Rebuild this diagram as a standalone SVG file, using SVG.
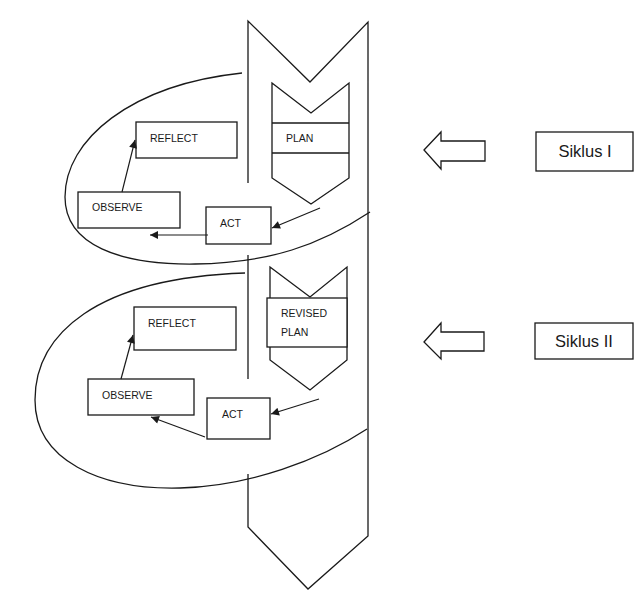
<svg xmlns="http://www.w3.org/2000/svg" width="642" height="605" viewBox="0 0 642 605">
<defs>
<marker id="ah" viewBox="0 0 10 10" refX="10" refY="5" markerWidth="10" markerHeight="8" markerUnits="userSpaceOnUse" orient="auto">
<path d="M0,0 L10,5 L0,10 Z" fill="#1a1a1a"/>
</marker>
</defs>
<style>
.ln{fill:none;stroke:#1a1a1a;stroke-width:1.3}
.bx{fill:#fff;stroke:#1a1a1a;stroke-width:1.3}
.t{font-family:"Liberation Sans",Arial,sans-serif;font-size:10.5px;fill:#1a1a1a}
.tb{font-family:"Liberation Sans",Arial,sans-serif;font-size:16.5px;fill:#1a1a1a}
.ar{fill:none;stroke:#1a1a1a;stroke-width:1.2;marker-end:url(#ah)}
</style>
<rect width="642" height="605" fill="#fff"/>
<g id="band">
<path class="ln" d="M248,183 L248,21 L310,82 L368,22 L368,536 L308,589 L248,527 L248,474"/>
<path class="ln" d="M248,255 L248,379"/>
</g>
<g id="cycle1-loop">
<path class="ln" d="M242,73 C130,85 65,140 65,197 C65,245 120,265 195,264 C270,263 320,245 370,212"/>
</g>
<g id="cycle2-loop">
<path class="ln" d="M245,273 C95,278 35,335 35,400 C35,460 100,490 180,488 C250,486 320,460 367,429"/>
</g>
<g id="plan1">
<path class="bx" d="M272,83 L311,113 L349,83 L349,178 L311,204 L272,178 Z"/>
<path class="ln" d="M272,123 L349,123 M272,153 L349,153"/>
<text class="t" x="286" y="142">PLAN</text>
</g>
<g id="act1">
<rect class="bx" x="206" y="207" width="65" height="37"/>
<text class="t" x="220" y="227">ACT</text>
</g>
<g id="observe1">
<rect class="bx" x="78" y="192" width="102" height="36"/>
<text class="t" x="92" y="211">OBSERVE</text>
</g>
<g id="reflect1">
<rect class="bx" x="136" y="122" width="101" height="36"/>
<text class="t" x="150" y="142">REFLECT</text>
</g>
<g id="plan2">
<path class="bx" d="M270,267 L310,297 L347,267 L347,360 L310,390 L270,360 Z"/>
<rect class="bx" x="267" y="298" width="80" height="49"/>
<text class="t" x="281" y="317">REVISED</text>
<text class="t" x="281" y="336">PLAN</text>
</g>
<g id="act2">
<rect class="bx" x="207" y="398" width="63" height="41"/>
<text class="t" x="222" y="418">ACT</text>
</g>
<g id="observe2">
<rect class="bx" x="88" y="379" width="106" height="36"/>
<text class="t" x="102" y="399">OBSERVE</text>
</g>
<g id="reflect2">
<rect class="bx" x="134" y="307" width="102" height="43"/>
<text class="t" x="148" y="327">REFLECT</text>
</g>
<g id="siklus1">
<rect class="bx" x="536" y="132" width="97" height="39"/>
<text class="tb" x="585" y="157" text-anchor="middle">Siklus I</text>
</g>
<g id="siklus2">
<rect class="bx" x="535" y="323" width="98" height="36"/>
<text class="tb" x="584" y="347" text-anchor="middle">Siklus II</text>
</g>
<g id="connectors">
<path class="ar" d="M320,208 L272,228"/>
<path class="ar" d="M208,235 L150,235"/>
<path class="ar" d="M122,192 L135,140"/>
<path class="ar" d="M319,399 L271,414"/>
<path class="ar" d="M205,437 L151,417"/>
<path class="ar" d="M121,379 L133,335"/>
<path class="bx" d="M424,150 L441,132 L441,141 L485,141 L485,161 L441,161 L441,169 Z"/>
<path class="bx" d="M424,342 L441,323 L441,332 L484,332 L484,351 L441,351 L441,359 Z"/>
</g>
</svg>
